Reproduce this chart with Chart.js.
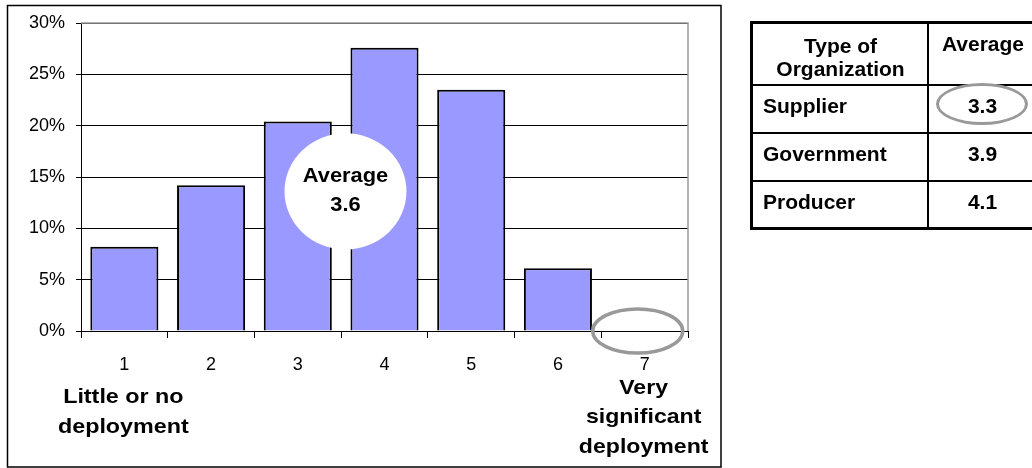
<!DOCTYPE html>
<html>
<head>
<meta charset="utf-8">
<script src="https://cdn.jsdelivr.net/npm/chart.js@4.4.1/dist/chart.umd.min.js"></script>
<style>
  html, body { margin: 0; padding: 0; background: #fff; overflow: hidden; }
  #wrap { position: relative; width: 1032px; height: 468px; }
  #c { position: absolute; left: 0; top: 0; }
  .cell { position: absolute; font: bold 21px Arial, "Liberation Sans", sans-serif; color: #000; box-sizing: border-box; }
  .hline { position: absolute; background: #000; }
</style>
</head>
<body>
<div id="wrap">
  <canvas id="c" width="1032" height="468"></canvas>
  <div id="tbl"></div>
</div>
<script>
// ---- data ----
const categories = ['1', '2', '3', '4', '5', '6', '7'];
const shares = [8.2, 14.2, 20.4, 27.6, 23.5, 6.1, 0];
const yTicks = [0, 5, 10, 15, 20, 25, 30];
const lowLabel = ['Little or no', 'deployment'];
const highLabel = ['Very', 'significant', 'deployment'];
const overallAverageLabel = ['Average', '3.6'];
const tableHeader = [['Type of', 'Organization'], ['Average']];
const orgTypes = ['Supplier', 'Government', 'Producer'];
const orgAverages = ['3.3', '3.9', '4.1'];
const highlightedOrg = 'Supplier';
const emptyCategory = '7';

// ---- chart ----
const FONT = 'Arial, "Liberation Sans", sans-serif';

function stretchedText(ctx, text, x, y, sx) {
  ctx.save();
  ctx.translate(x, y);
  ctx.scale(sx, 1);
  ctx.fillText(text, 0, 0);
  ctx.restore();
}

const decorPlugin = {
  id: 'decor',
  beforeDatasetsDraw(chart) {
    const { ctx, chartArea: a } = chart;
    ctx.save();
    ctx.strokeStyle = '#999999';
    ctx.lineWidth = 1.5;
    ctx.beginPath();
    ctx.moveTo(a.left, a.top);
    ctx.lineTo(a.right, a.top);
    ctx.lineTo(a.right, a.bottom);
    ctx.stroke();
    ctx.restore();
  },
  afterDatasetsDraw(chart) {
    const { ctx, scales: { x, y } } = chart;
    ctx.save();
    // white "Average" bubble
    const cx = x.getPixelForValue(2.55);
    const cy = y.getPixelForValue(13.6);
    ctx.fillStyle = '#ffffff';
    ctx.beginPath();
    ctx.ellipse(cx, cy, 61, 58, 0, 0, Math.PI * 2);
    ctx.fill();
    ctx.fillStyle = '#000';
    ctx.font = 'bold 21px ' + FONT;
    ctx.textAlign = 'center';
    ctx.textBaseline = 'middle';
    stretchedText(ctx, overallAverageLabel[0], cx, cy - 15, 1.04);
    stretchedText(ctx, overallAverageLabel[1], cx, cy + 14, 1.04);
    ctx.restore();
  },
  afterDraw(chart) {
    const { ctx, scales: { x, y } } = chart;
    ctx.save();
    // gray ellipse around empty category
    const ei = categories.indexOf(emptyCategory);
    const ex = x.getPixelForValue(ei - 0.08);
    const ey = y.getPixelForValue(0);
    ctx.strokeStyle = '#999999';
    ctx.lineWidth = 3.5;
    ctx.beginPath();
    ctx.ellipse(ex, ey, 45, 22, 0, 0, Math.PI * 2);
    ctx.stroke();
    // end labels
    ctx.fillStyle = '#000';
    ctx.font = 'bold 21px ' + FONT;
    ctx.textAlign = 'center';
    ctx.textBaseline = 'middle';
    const lx = x.getPixelForValue(0);
    lowLabel.forEach((t, i) => stretchedText(ctx, t, lx - 1, 397 + i * 30, 1.11));
    const hx = x.getPixelForValue(categories.length - 1);
    highLabel.forEach((t, i) => stretchedText(ctx, t, hx - 1, 388 + i * 29.5, 1.1));
    // outer frame
    ctx.strokeStyle = '#000';
    ctx.lineWidth = 1.5;
    ctx.strokeRect(7.5, 5.5, 713.5, 461.5);
    ctx.restore();
  }
};

new Chart(document.getElementById('c'), {
  type: 'bar',
  data: {
    labels: categories,
    datasets: [{
      data: shares,
      backgroundColor: '#9999FF',
      borderColor: '#000000',
      borderWidth: 2,
      barPercentage: 0.785,
      categoryPercentage: 1.0
    }]
  },
  options: {
    responsive: false,
    animation: false,
    devicePixelRatio: 1,
    layout: { padding: { left: 0, top: 23, right: 344, bottom: 0 } },
    plugins: { legend: { display: false }, tooltip: { enabled: false } },
    scales: {
      x: {
        offset: true,
        grid: { offset: true, drawOnChartArea: false, drawTicks: true, tickLength: 7, color: '#000', lineWidth: 1 },
        border: { display: true, color: '#000', width: 1 },
        ticks: { color: '#000', font: { family: FONT, size: 18 }, padding: 16 },
        afterFit(s) { s.height = 137; }
      },
      y: {
        min: 0,
        max: 30,
        afterBuildTicks(s) { s.ticks = yTicks.map(v => ({ value: v })); },
        grid: { color: '#000', lineWidth: 1, drawTicks: true, tickLength: 5 },
        border: { display: true, color: '#000', width: 1 },
        ticks: { color: '#000', font: { family: FONT, size: 18 }, padding: 11, callback: v => v + '%' },
        afterFit(s) { s.width = 81; }
      }
    }
  },
  plugins: [decorPlugin]
});

// ---- table ----
(function buildTable() {
  const tbl = document.getElementById('tbl');
  const L = 750, T = 21, R = 1040, colX = 928;
  const rowTops = [85, 133, 181];
  const bottom = 229;
  function line(x, y, w, h) {
    const d = document.createElement('div');
    d.className = 'hline';
    Object.assign(d.style, { left: x + 'px', top: y + 'px', width: w + 'px', height: h + 'px' });
    tbl.appendChild(d);
  }
  function cell(text, x, y, w, h, align, padL, padT, lh) {
    const d = document.createElement('div');
    d.className = 'cell';
    Object.assign(d.style, {
      left: x + 'px', top: y + 'px', width: w + 'px', height: h + 'px',
      textAlign: align, paddingLeft: padL + 'px', paddingTop: padT + 'px', lineHeight: lh + 'px'
    });
    d.innerHTML = text;
    tbl.appendChild(d);
  }
  // frame
  line(L, T, R - L, 3);
  line(L, bottom - 2, R - L, 3);
  line(L, T, 3, bottom - T + 1);
  line(colX - 1, T, 2, bottom - T);
  rowTops.forEach(t => line(L, t - 1, R - L, 2));
  // header
  cell(tableHeader[0].join('<br>'), L + 3, T + 2, colX - L - 3, rowTops[0] - T, 'center', 0, 11, 23);
  cell(tableHeader[1].join('<br>'), colX + 1, T + 2, 108, rowTops[0] - T, 'center', 0, 9, 23);
  // rows
  orgTypes.forEach((name, i) => {
    const top = rowTops[i];
    cell(name, L + 3, top, colX - L - 3, 48, 'left', 10, 9, 24);
    cell(orgAverages[i], colX + 1, top, 107, 48, 'center', 0, 9, 24);
  });
  // highlight ellipse
  const hi = orgTypes.indexOf(highlightedOrg);
  const e = document.createElement('div');
  Object.assign(e.style, {
    position: 'absolute', left: '936px', top: (rowTops[hi] - 2) + 'px', width: '92px', height: '42px',
    border: '3px solid #999', borderRadius: '50%', boxSizing: 'border-box'
  });
  tbl.appendChild(e);
})();
</script>
</body>
</html>
